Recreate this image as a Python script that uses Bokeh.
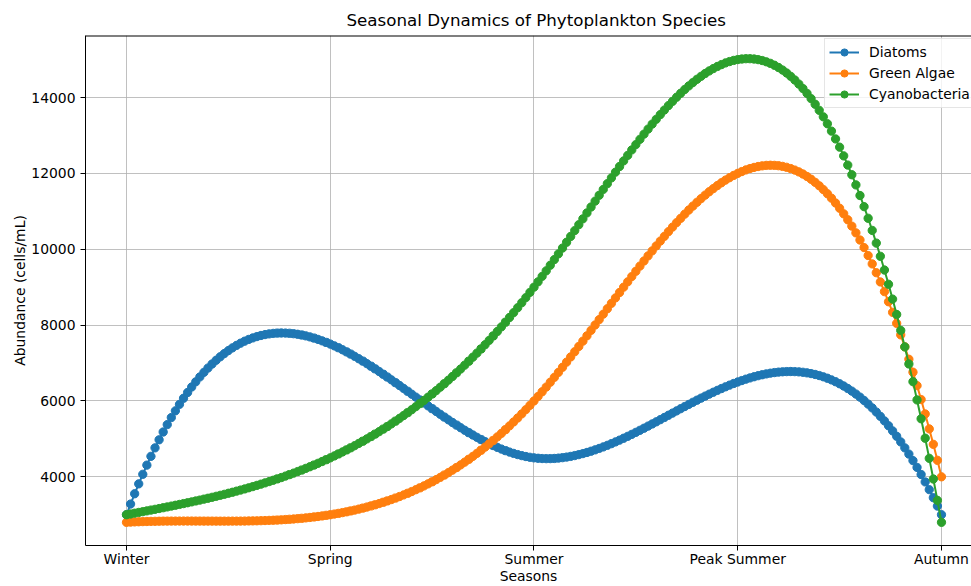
import numpy as np
from bokeh.plotting import figure
from bokeh.models import Range1d, FixedTicker, Legend, LegendItem, Span
from bokeh.embed import file_html
from bokeh.resources import INLINE

# ---- data ----
seasons = ["Winter", "Spring", "Summer", "Peak Summer", "Autumn"]
season_pos = [0, 1, 2, 3, 4]
y_ticks = [4000, 6000, 8000, 10000, 12000, 14000]

diatoms = [
    3000, 3282, 3553, 3814, 4066, 4308, 4540, 4763, 4976, 5181,
    5376, 5563, 5740, 5910, 6071, 6223, 6368, 6505, 6633, 6754,
    6868, 6974, 7073, 7165, 7250, 7328, 7400, 7465, 7523, 7576,
    7622, 7662, 7697, 7726, 7750, 7768, 7781, 7789, 7792, 7790,
    7784, 7773, 7758, 7739, 7716, 7689, 7658, 7623, 7585, 7544,
    7500, 7453, 7403, 7350, 7294, 7236, 7176, 7114, 7050, 6984,
    6916, 6847, 6776, 6704, 6631, 6557, 6482, 6407, 6331, 6255,
    6178, 6101, 6025, 5948, 5872, 5797, 5722, 5648, 5575, 5503,
    5432, 5363, 5295, 5228, 5164, 5102, 5041, 4983, 4928, 4874,
    4824, 4776, 4732, 4690, 4652, 4617, 4586, 4559, 4535, 4515,
    4500, 4489, 4482, 4479, 4480, 4484, 4493, 4505, 4520, 4538,
    4560, 4585, 4612, 4642, 4675, 4711, 4748, 4788, 4830, 4874,
    4920, 4967, 5017, 5067, 5119, 5172, 5226, 5281, 5337, 5393,
    5450, 5507, 5565, 5623, 5680, 5738, 5796, 5853, 5909, 5965,
    6020, 6074, 6127, 6179, 6230, 6279, 6327, 6373, 6417, 6460,
    6500, 6538, 6574, 6607, 6638, 6666, 6691, 6713, 6732, 6748,
    6760, 6769, 6774, 6776, 6773, 6767, 6756, 6741, 6722, 6698,
    6670, 6637, 6599, 6555, 6507, 6453, 6394, 6329, 6259, 6182,
    6100, 6012, 5917, 5816, 5708, 5594, 5474, 5346, 5211, 5069,
    4920, 4763, 4599, 4428, 4248, 4061, 3865, 3661, 3449, 3229,
    3000]

green_algae = [
    2800, 2806, 2811, 2815, 2819, 2822, 2825, 2827, 2829, 2831,
    2832, 2833, 2833, 2834, 2834, 2834, 2834, 2833, 2833, 2832,
    2832, 2832, 2831, 2831, 2831, 2831, 2832, 2832, 2833, 2834,
    2836, 2838, 2840, 2843, 2847, 2851, 2855, 2860, 2866, 2873,
    2880, 2888, 2897, 2906, 2917, 2928, 2941, 2954, 2968, 2984,
    3000, 3018, 3036, 3056, 3077, 3100, 3123, 3148, 3175, 3203,
    3232, 3263, 3295, 3329, 3364, 3401, 3440, 3480, 3522, 3566,
    3612, 3660, 3709, 3760, 3814, 3869, 3926, 3985, 4047, 4110,
    4176, 4244, 4314, 4386, 4461, 4538, 4618, 4700, 4784, 4871,
    4960, 5052, 5146, 5243, 5343, 5446, 5551, 5659, 5770, 5883,
    6000, 6119, 6242, 6366, 6494, 6623, 6754, 6888, 7023, 7160,
    7298, 7437, 7577, 7718, 7860, 8003, 8145, 8288, 8431, 8574,
    8717, 8859, 9000, 9141, 9280, 9419, 9556, 9691, 9825, 9957,
    10087, 10215, 10340, 10463, 10584, 10701, 10815, 10926, 11034, 11138,
    11238, 11335, 11427, 11516, 11599, 11679, 11753, 11823, 11887, 11946,
    12000, 12048, 12091, 12127, 12157, 12181, 12199, 12210, 12214, 12211,
    12202, 12184, 12160, 12127, 12087, 12039, 11983, 11918, 11845, 11763,
    11673, 11573, 11464, 11346, 11219, 11081, 10934, 10777, 10609, 10432,
    10243, 10044, 9834, 9613, 9381, 9137, 8882, 8615, 8336, 8046,
    7742, 7427, 7099, 6758, 6404, 6037, 5657, 5263, 4856, 4435,
    4000]

cyanobacteria = [
    3000, 3020, 3041, 3061, 3081, 3102, 3123, 3143, 3164, 3185,
    3206, 3228, 3250, 3272, 3294, 3316, 3339, 3363, 3386, 3411,
    3435, 3460, 3486, 3512, 3538, 3566, 3593, 3622, 3651, 3680,
    3711, 3742, 3774, 3806, 3840, 3874, 3909, 3945, 3981, 4019,
    4058, 4097, 4138, 4179, 4222, 4265, 4310, 4356, 4403, 4451,
    4500, 4550, 4602, 4655, 4709, 4765, 4821, 4880, 4939, 5000,
    5062, 5126, 5191, 5258, 5326, 5396, 5468, 5541, 5615, 5691,
    5769, 5849, 5930, 6013, 6098, 6184, 6273, 6363, 6455, 6549,
    6645, 6743, 6842, 6944, 7048, 7154, 7261, 7371, 7483, 7597,
    7714, 7832, 7953, 8076, 8201, 8328, 8458, 8590, 8724, 8861,
    9000, 9142, 9285, 9431, 9579, 9728, 9879, 10031, 10184, 10337,
    10492, 10647, 10802, 10958, 11113, 11268, 11423, 11577, 11729, 11881,
    12032, 12181, 12329, 12474, 12618, 12759, 12898, 13035, 13168, 13299,
    13426, 13550, 13670, 13787, 13899, 14008, 14112, 14211, 14306, 14395,
    14480, 14559, 14633, 14701, 14763, 14819, 14868, 14912, 14948, 14978,
    15000, 15015, 15023, 15023, 15015, 14999, 14975, 14942, 14901, 14851,
    14792, 14724, 14646, 14559, 14462, 14354, 14237, 14109, 13971, 13822,
    13662, 13491, 13308, 13114, 12908, 12691, 12461, 12219, 11964, 11696,
    11416, 11123, 10816, 10496, 10162, 9814, 9452, 9076, 8685, 8280,
    7860, 7425, 6975, 6509, 6027, 5530, 5017, 4487, 3942, 3379,
    2800]

series_names = ["Diatoms", "Green Algae", "Cyanobacteria"]
series_colors = ["#1f77b4", "#ff7f0e", "#2ca02c"]

x = np.linspace(season_pos[0], season_pos[-1], len(diatoms))

FONT = "DejaVu Sans"
Y_START, Y_END = 2189, 15635

p = figure(width=971, height=586,
           x_range=Range1d(-0.2012, 4.1473), y_range=Range1d(Y_START, Y_END),
           output_backend="svg", toolbar_location=None,
           min_border_left=85, min_border_right=0, min_border_top=35, min_border_bottom=0)

p.title.text = "Seasonal Dynamics of Phytoplankton Species"
p.title.align = "left"
p.title.offset = 261
p.title.text_font = FONT
p.title.text_font_size = "16.7px"
p.title.text_font_style = "normal"
p.title.text_color = "#000000"
p.title.standoff = 11

# the right spine of the reference lies outside the picture: draw only the top spine
p.outline_line_color = None
p.add_layout(Span(location=Y_END, dimension="width", line_color="black", line_width=2))

p.xaxis.ticker = FixedTicker(ticks=season_pos)
p.xaxis.major_label_overrides = {pos: name for pos, name in zip(season_pos, seasons)}
p.yaxis.ticker = FixedTicker(ticks=y_ticks)
p.xaxis.axis_label = "Seasons"
p.yaxis.axis_label = "Abundance (cells/mL)"

for ax in (p.xaxis[0], p.yaxis[0]):
    ax.axis_line_color = "black"
    ax.major_tick_line_color = "black"
    ax.major_tick_out = 5
    ax.major_tick_in = 0
    ax.minor_tick_line_color = None
    ax.major_label_text_font = FONT
    ax.major_label_text_font_size = "13.9px"
    ax.major_label_text_color = "#000000"
    ax.axis_label_text_font = FONT
    ax.axis_label_text_font_size = "13.9px"
    ax.axis_label_text_font_style = "normal"
    ax.axis_label_text_color = "#000000"
p.xaxis.major_label_standoff = 0
p.xaxis.axis_label_standoff = -2
p.yaxis.major_label_standoff = 5
p.yaxis.axis_label_standoff = 0

p.xgrid.ticker = FixedTicker(ticks=season_pos)
p.ygrid.ticker = FixedTicker(ticks=y_ticks)
for g in (p.xgrid[0], p.ygrid[0]):
    g.grid_line_color = "#b0b0b0"
    g.grid_line_width = 0.8

items = []
for name, col, vals in zip(series_names, series_colors, [diatoms, green_algae, cyanobacteria]):
    ln = p.line(x, vals, line_color=col, line_width=2)
    sc = p.scatter(x, vals, marker="circle", size=8.3, fill_color=col, line_color=col)
    items.append(LegendItem(label=name, renderers=[ln, sc]))

legend = Legend(items=items, location=(739, 437))
legend.label_text_font = FONT
legend.label_text_font_size = "13.9px"
legend.label_text_color = "#000000"
legend.border_line_color = "#cccccc"
legend.border_line_width = 1
legend.background_fill_alpha = 0.8
legend.glyph_width = 30
legend.glyph_height = 18
legend.label_height = 18
legend.spacing = 3
legend.padding = 4
legend.margin = 0
legend.label_standoff = 10
p.add_layout(legend)

open("out.html", "w").write(file_html(p, INLINE))
